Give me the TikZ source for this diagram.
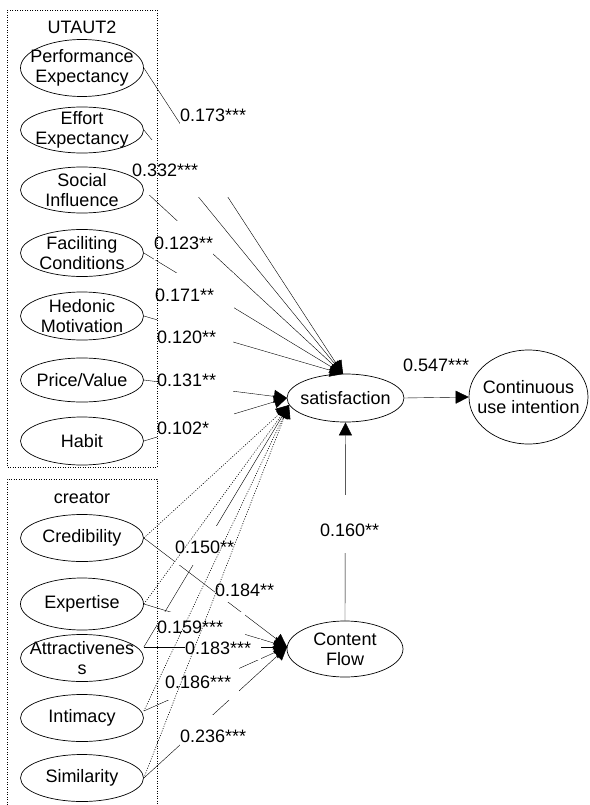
\documentclass[tikz,border=0pt]{standalone}
\usepackage{fontspec}
\setmainfont{Liberation Sans}
\usetikzlibrary{shapes.geometric,arrows.meta,backgrounds}
\tikzset{construct/.style={ellipse,draw,minimum width=123pt,minimum height=47pt,inner sep=0pt,
    label={[align=center]center:#1}}}
\begin{document}
\begin{tikzpicture}[x=1pt,y=-1pt,>={Triangle[length=13pt,width=13pt]},line width=0.7pt,font=\fontsize{18}{20}\selectfont]
    \tikzstyle{coef} = [fill=white,inner sep=0pt,anchor=base west]
    \tikzstyle{dotline} = [dash pattern=on 1pt off 1.5pt,line width=0.6pt]

    \useasboundingbox (0,0) rectangle (589,805);

    % UTAUT2 constructs
    \node (UT) at (82,27) {UTAUT2};
    \node[construct={Performance\\Expectancy},minimum height=57pt] (PE) at (82,68) {};
    \node[construct={Effort\\Expectancy},minimum height=46pt] (EE) at (82,130) {};
    \node[construct={Social\\Influence},minimum height=46pt] (SI) at (82,190) {};
    \node[construct={\fontsize{18}{25}\selectfont Faciliting\\Conditions}] (FC) at (82,253) {};
    \node[construct={Hedonic\\Motivation},minimum height=48pt] (HM) at (82,316) {};
    \node[construct={Price/Value},minimum height=44pt] (PV) at (82,380) {};
    \node[construct={Habit},minimum height=48pt] (HB) at (82,441) {};

    % creator constructs
    \node (CRT) at (82,498) {creator};
    \node[construct={Credibility}] (CR) at (82,538) {};
    \node[construct={Expertise},minimum height=52pt] (EX) at (82,604) {};
    \node[construct={Attractivenes\\s}] (AT) at (82,658) {};
    \node[construct={Intimacy}] (IN) at (82,718) {};
    \node[construct={Similarity}] (SM) at (82,778) {};

    \node[construct={satisfaction},minimum width=117pt,minimum height=48pt] (SAT) at (345.5,398) {};
    \node[construct={Content\\Flow},minimum width=116pt,minimum height=56pt] (CF) at (345,649) {};
    \node[construct={Continuous\\use intention},minimum width=119pt,minimum height=94pt] (CUI) at (528.5,397) {};

    \coordinate (satT) at (343,374);
    \coordinate (satL) at (287,398);
    \coordinate (satB) at (289,405);
    \coordinate (cfL) at (287,647);

    \begin{scope}[on background layer]
    \draw[->] (PE.east) -- (satT);
    \draw[->] (EE.east) -- (satT);
    \draw[->] (SI.east) -- (satT);
    \draw[->] (FC.east) -- (satT);
    \draw[->] (HM.east) -- (satT);
    \draw[->] (PV.east) -- (satL);
    \draw[->] (HB.east) -- (satL);
    \draw[->] ([yshift=11pt]AT.east) -- (satB);

    \draw[->] (CR.east) -- (cfL);
    \draw[->] (EX.east) -- (cfL);
    \draw[->] ([yshift=11pt]AT.east) -- (cfL);
    \draw[->] ([yshift=7pt]IN.east) -- (cfL);
    \draw[->] (SM.east) -- (cfL);

    \draw[->] (CF.north) -- (SAT.south);
    \draw[->] (SAT.east) -- (CUI.west);

    \node[coef,text height=18.5pt,text depth=75.5pt] (c1) at (180,121.5) {0.173***\hspace*{3pt}};
    \node[coef,text height=36.5pt,text depth=18.5pt] (c2) at (132,176.5) {0.332***\hspace*{3pt}};
    \node[coef,text height=28.5pt,text depth=10.5pt] (c3) at (154,249.5) {0.123**};
    \node[coef,text height=28.5pt,text depth=10.5pt] (c4) at (155,301.5) {0.171**\hspace*{20pt}};
    \node[coef,text height=25.5pt,text depth=6.5pt] (c5) at (157,343.5) {0.120**\hspace*{17pt}};
    \node[coef,text height=21.5pt,text depth=8.5pt] (c6) at (157,386.5) {0.131**\hspace*{17pt}};
    \node[coef,text height=24.5pt,text depth=5.5pt] (c7) at (157,434.5) {0.102*\hspace*{25pt}};
    \node[coef,text height=27.5pt,text depth=11.5pt] (c8) at (175,553.5) {0.150**\hspace*{2pt}};
    \node[coef,text height=21.5pt,text depth=5.5pt] (c9) at (215,596.5) {0.184**\hspace*{3pt}};
    \node[coef,text height=21.5pt,text depth=3.5pt] (c10) at (157,633.5) {0.159***\hspace*{22pt}};
    \node[coef,text height=15.5pt,text depth=5.5pt] (c11) at (185,654.5) {0.183***\hspace*{10pt}};
    \node[coef,text height=23.5pt,text depth=11.5pt] (c12) at (165,688.5) {0.186***\hspace*{8pt}};
    \node[coef,text height=27.5pt,text depth=7.5pt] (c13) at (180,742.5) {0.236***\hspace*{3pt}};
    \node[coef,text height=14pt,text depth=4pt] (c14) at (403,371.5) {0.547***};
    \node[coef,text height=41.5pt,text depth=16.5pt] (c15) at (320,536.5) {0.160**};
    \end{scope}

    \draw[->,dotline] (CR.east) -- (satB);
    \draw[->,dotline] (EX.east) -- (satB);
    \draw[->,dotline] ([yshift=7pt]IN.east) -- (satB);
    \draw[->,dotline] (SM.east) -- (satB);

    \draw[dotline] (7,10) rectangle (157,467);
    \draw[dotline] (7,810) -- (7,479) -- (157,479) -- (157,810);

\end{tikzpicture}
\end{document}
